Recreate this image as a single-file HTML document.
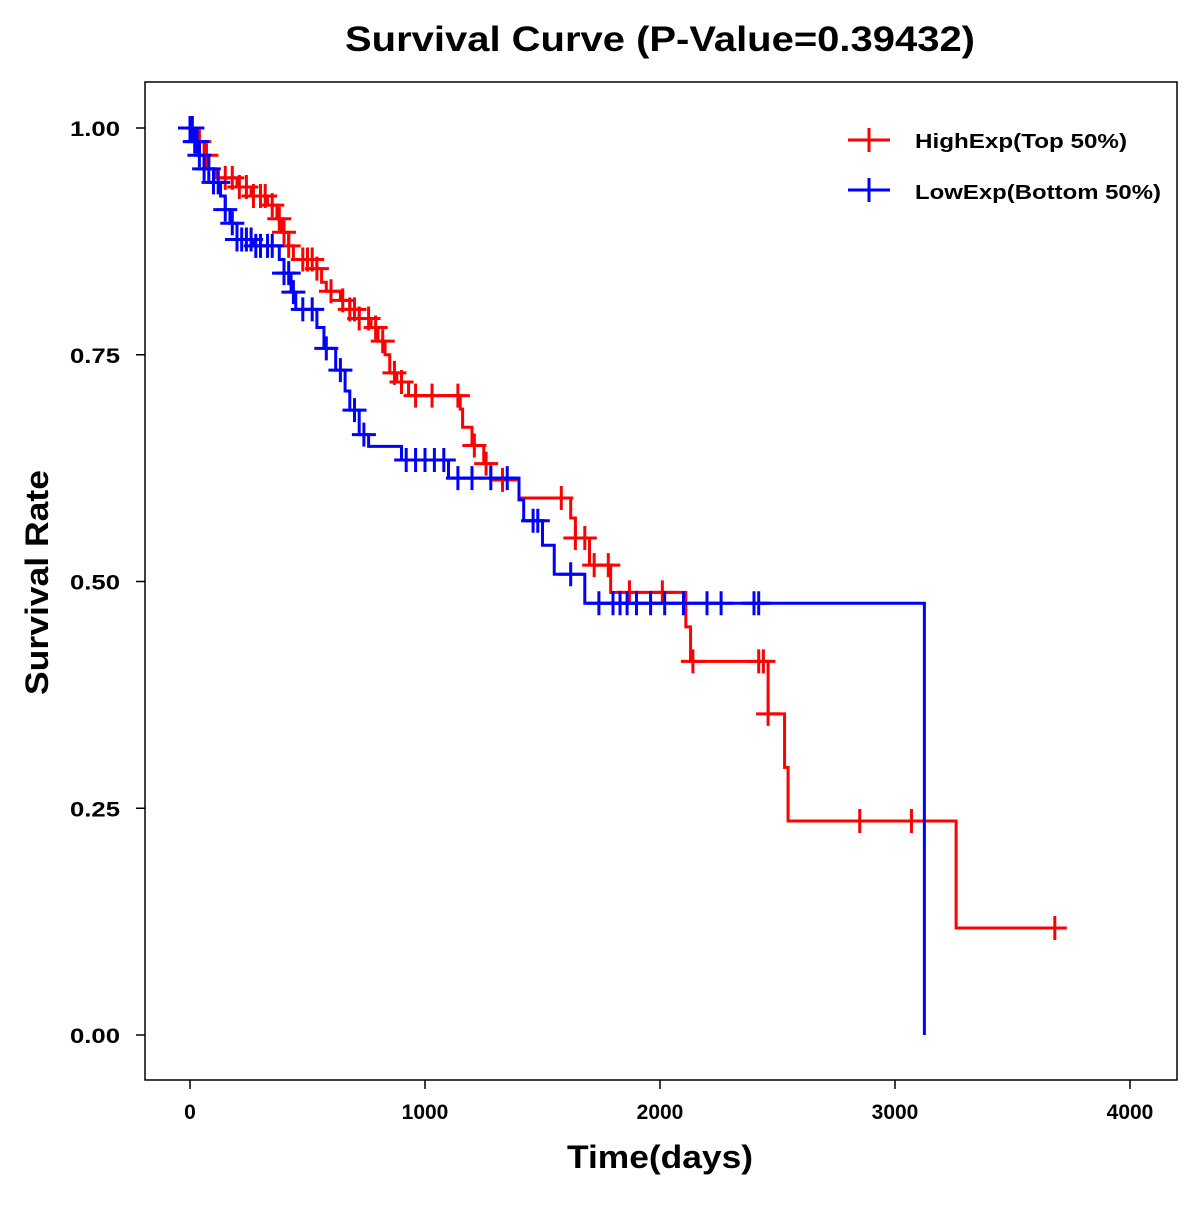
<!DOCTYPE html>
<html><head><meta charset="utf-8"><style>
html,body{margin:0;padding:0;background:#fff;}
svg text{font-family:"Liberation Sans",Arial,sans-serif;font-weight:bold;}
</style></head><body>
<svg id="chart" width="1200" height="1200" xmlns="http://www.w3.org/2000/svg">
<rect width="1200" height="1200" fill="#fff"/>
<text x="345" y="51" font-size="35" textLength="630" lengthAdjust="spacingAndGlyphs">Survival Curve (P-Value=0.39432)</text>
<rect x="145" y="82" width="1032" height="998" fill="none" stroke="#000" stroke-width="1.5"/>
<g id="xaxis"></g>
<g id="yaxis"></g>
<text x="567" y="1168" font-size="32" textLength="186" lengthAdjust="spacingAndGlyphs">Time(days)</text>
<text transform="translate(48,695) rotate(-90)" font-size="32" textLength="225" lengthAdjust="spacingAndGlyphs">Survival Rate</text>
<g id="series"></g>
<g>
<g>
<line x1="848" y1="140" x2="890" y2="140" stroke="#ff0000" stroke-width="3"/><line x1="869" y1="128" x2="869" y2="152" stroke="#ff0000" stroke-width="3"/>
<text x="915" y="148" font-size="20" textLength="212" lengthAdjust="spacingAndGlyphs">HighExp(Top 50%)</text></g>
<g>
<line x1="848" y1="190" x2="890" y2="190" stroke="#0000ff" stroke-width="3"/><line x1="869" y1="178" x2="869" y2="202" stroke="#0000ff" stroke-width="3"/>
<text x="915" y="199" font-size="20" textLength="246" lengthAdjust="spacingAndGlyphs">LowExp(Bottom 50%)</text></g>
</g>
</svg>
<script>
const xTicks=[0,1000,2000,3000,4000];
const yTicks=[0,0.25,0.5,0.75,1.0];
const yTickLabels=["0.00","0.25","0.50","0.75","1.00"];
const highTimes=[0,30,60,80,110,200,260,330,370,390,420,440,540,560,580,640,680,720,770,800,830,850,880,930,1150,1160,1200,1250,1280,1400,1620,1640,1700,1790,2110,2130,2460,2530,2545,3260];
const highSurv=[1.0,0.985,0.97,0.955,0.945,0.935,0.925,0.915,0.9,0.885,0.87,0.855,0.845,0.83,0.82,0.81,0.8,0.79,0.78,0.765,0.75,0.73,0.72,0.705,0.69,0.67,0.65,0.63,0.612,0.592,0.57,0.548,0.518,0.488,0.45,0.412,0.354,0.295,0.236,0.118];
const highEnd=3710;
const highCensor=[40,70,150,180,210,240,270,300,320,350,380,400,420,480,500,520,540,600,650,680,700,720,760,790,820,870,900,960,1030,1140,1210,1260,1330,1580,1640,1680,1720,1780,1870,2010,2140,2420,2440,2460,2850,3070,3680];
const lowTimes=[0,20,40,60,100,130,150,170,200,270,380,400,430,450,540,570,620,660,680,720,760,900,1100,1400,1420,1500,1550,1680,3125];
const lowSurv=[1.0,0.985,0.97,0.955,0.94,0.925,0.91,0.895,0.877,0.87,0.855,0.84,0.819,0.8,0.78,0.757,0.733,0.71,0.689,0.662,0.649,0.634,0.614,0.59,0.567,0.54,0.508,0.476,0.0];
const lowEnd=3125;
const lowCensor=[0,10,20,30,40,60,80,100,120,150,180,200,220,240,260,280,300,330,350,400,420,440,480,520,580,640,700,740,920,960,1000,1040,1080,1140,1200,1280,1350,1460,1480,1620,1740,1800,1830,1860,1900,1960,2020,2100,2200,2260,2400,2420];
const NS="http://www.w3.org/2000/svg";
const X=t=>190+t*0.235;
const Y=s=>1035-s*907;
function mk(tag,attrs,parent){const e=document.createElementNS(NS,tag);for(const k in attrs)e.setAttribute(k,attrs[k]);parent.appendChild(e);return e;}
const xa=document.getElementById('xaxis'),ya=document.getElementById('yaxis');
xTicks.forEach(t=>{
 const l=mk('line',{x1:X(t),x2:X(t),y1:1080,y2:1089,stroke:'#000','stroke-width':1.5},xa);
 
 
 const tx=mk('text',{x:X(t),y:1119,'font-size':21,'text-anchor':'middle'},xa);tx.textContent=t;
 
 
});
yTicks.forEach((v,i)=>{
 const l=mk('line',{x1:136,x2:145,y1:Y(v),y2:Y(v),stroke:'#000','stroke-width':1.5},ya);
 
 
 const tx=mk('text',{x:70,y:Y(v)+8,'font-size':21,textLength:50,lengthAdjust:'spacingAndGlyphs'},ya);tx.textContent=yTickLabels[i];
 
 
});
function survAt(times,surv,t){let s=surv[0];for(let i=0;i<times.length;i++){if(times[i]<=t)s=surv[i];}return s;}
function drawSeries(times,surv,end,cens,color,name){
 const g=mk('g',{},document.getElementById('series'));
 
 
 let d='M'+X(times[0])+','+Y(surv[0]);
 for(let i=1;i<times.length;i++){d+=' H'+X(times[i])+' V'+Y(surv[i]);}
 d+=' H'+X(end);
 const p=mk('path',{d:d,fill:'none',stroke:color,'stroke-width':3},g);
 
 
 cens.forEach(t=>{
  const s=survAt(times,surv,t),cx=X(t),cy=Y(s);
  const c=mk('path',{d:`M${cx-12},${cy} H${cx+12} M${cx},${cy-12} V${cy+12}`,stroke:color,'stroke-width':3,fill:'none'},g);
  
  
 });
}
drawSeries(highTimes,highSurv,highEnd,highCensor,'#ff0000','high-exp');
drawSeries(lowTimes,lowSurv,lowEnd,lowCensor,'#0000ff','low-exp');
</script>
</body></html>
